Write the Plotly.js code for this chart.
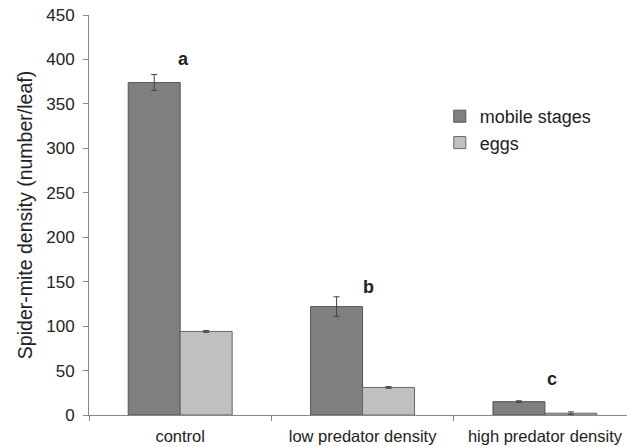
<!DOCTYPE html>
<html>
<head>
<meta charset="utf-8">
<script src="https://cdn.plot.ly/plotly-3.0.1.min.js"></script>
<style>html,body{margin:0;padding:0;background:#fff;}#chart{width:627px;height:447px;}</style>
</head>
<body>
<div id="chart"></div>
<script>
var categories = ["control", "low predator density", "high predator density"];
var mobileStages = [374, 122, 15];
var mobileErr = [9, 11, 1];
var eggs = [94, 31, 2];
var eggsErr = [1, 1, 1.5];
var letters = ["a", "b", "c"];
var letterY = [400, 144, 40];
var letterShift = [3, 6, 7];

var traces = [
  {
    type: "bar", name: "mobile stages", x: categories, y: mobileStages,
    marker: {color: "#7f7f7f", line: {color: "#555555", width: 1}},
    error_y: {type: "data", array: mobileErr, visible: true, color: "#444444", thickness: 1, width: 3}
  },
  {
    type: "bar", name: "eggs", x: categories, y: eggs,
    marker: {color: "#c0c0c0", line: {color: "#666666", width: 1}},
    error_y: {type: "data", array: eggsErr, visible: true, color: "#444444", thickness: 1, width: 3}
  }
];

var annotations = categories.map(function(c, i) {
  return {x: c, y: letterY[i], xref: "x", yref: "y", text: "<b>" + letters[i] + "</b>",
          showarrow: false, xshift: letterShift[i], font: {size: 18, color: "#222"}};
});

var layout = {
  width: 627, height: 447,
  margin: {l: 89, r: 0, t: 15, b: 32},
  paper_bgcolor: "#fff", plot_bgcolor: "#fff",
  font: {family: "Liberation Sans, Arial, sans-serif", size: 16, color: "#222"},
  barmode: "group", bargap: 0.43, bargroupgap: 0,
  showlegend: true,
  legend: {x: 0.652, y: 0.7925, xanchor: "left", yanchor: "top", font: {size: 18, color: "#222"},
           bgcolor: "rgba(0,0,0,0)", tracegroupgap: 0, itemwidth: 30},
  xaxis: {
    type: "category", range: [-0.5, 2.45], showline: true, linecolor: "#888", linewidth: 1,
    ticks: "outside", tickson: "boundaries", ticklen: 5, tickcolor: "#888", ticklabelstandoff: 6,
    showgrid: false, zeroline: false, tickfont: {size: 16.5, color: "#222"}
  },
  yaxis: {
    range: [0, 450], dtick: 50, showline: true, linecolor: "#888", linewidth: 1,
    ticks: "outside", ticklen: 5, tickcolor: "#888", showgrid: false, zeroline: false,
    ticklabelstandoff: 5, tickfont: {size: 17, color: "#222"},
    title: {text: "Spider-mite density (number/leaf)", font: {size: 19.5, color: "#222"}, standoff: 8}
  },
  annotations: annotations
};

Plotly.newPlot("chart", traces, layout, {staticPlot: true, displayModeBar: false});
</script>
</body>
</html>
